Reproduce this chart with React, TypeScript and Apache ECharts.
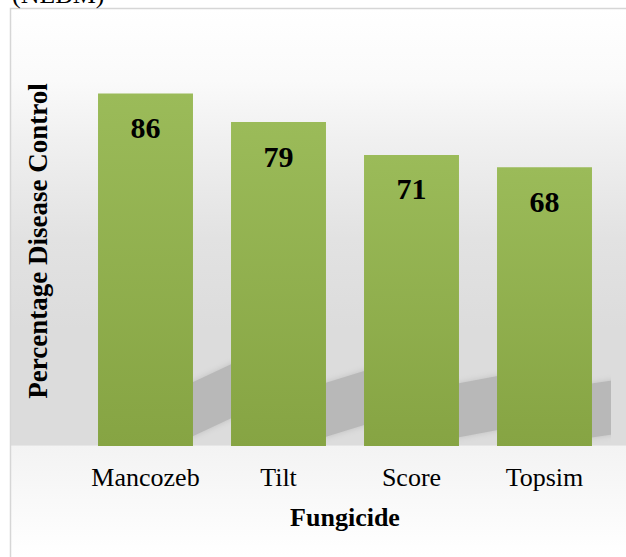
import React, { useEffect, useRef } from "react";
import * as echarts from "echarts";

const categories = ["Mancozeb", "Tilt", "Score", "Topsim"];
const values = [86, 79, 71, 68];
const yMax = 100;
const shadowRise = [0.5, 0.33, 0.2, 0.15];

const FONT = "'Times New Roman', 'Liberation Serif', serif";

export default function App() {
  const ref = useRef<HTMLDivElement>(null);
  useEffect(() => {
    if (!ref.current) return;
    const chart = echarts.init(ref.current, null, { renderer: "svg" });
    chart.setOption({
      animation: false,
      graphic: [
        {
          type: "rect",
          z: -10,
          shape: { x: 10.5, y: 8.5, width: 700, height: 600 },
          style: {
            stroke: "#d6d6d6",
            lineWidth: 1.5,
            fill: new echarts.graphic.LinearGradient(0, 0, 0, 548 / 600, [
              { offset: 0, color: "#ffffff" },
              { offset: 0.13, color: "#fafafa" },
              { offset: 0.24, color: "#f0f0f0" },
              { offset: 0.42, color: "#e2e2e2" },
              { offset: 0.585, color: "#dcdcdc" },
              { offset: 0.797, color: "#dcdcdc" },
              { offset: 0.798, color: "#f3f3f3" },
              { offset: 1, color: "#ffffff" },
            ]),
          },
        },
        {
          type: "text",
          x: 12,
          y: 7,
          style: {
            text: "(NLBM)",
            font: `26px ${FONT}`,
            fill: "#000",
            verticalAlign: "bottom",
          },
        },
      ],
      grid: { left: 79, right: 15, top: 36, bottom: 111 },
      xAxis: {
        type: "category",
        data: categories,
        axisLine: { show: false },
        axisTick: { show: false },
        axisLabel: { fontFamily: FONT, fontSize: 26, color: "#000", margin: 18, interval: 0 },
        name: "Fungicide",
        nameLocation: "middle",
        nameGap: 58,
        nameTextStyle: { fontFamily: FONT, fontSize: 26, fontWeight: "bold", color: "#000" },
      },
      yAxis: {
        type: "value",
        min: 0,
        max: yMax,
        axisLine: { show: false },
        axisTick: { show: false },
        axisLabel: { show: false },
        splitLine: { show: false },
        name: "Percentage Disease Control",
        nameLocation: "middle",
        nameGap: 28,
        nameRotate: 90,
        nameTextStyle: { fontFamily: FONT, fontSize: 27, fontWeight: "bold", color: "#000" },
      },
      series: [
        {
          type: "custom",
          z: 1,
          clip: true,
          silent: true,
          data: values.map((v, i) => [i, v]),
          renderItem: (params: any, api: any) => {
            const i = api.value(0);
            const base = api.coord([i, 0]);
            const bw = api.size([1, 0])[0] * (1 - 0.286);
            const xr = base[0] + bw / 2;
            const yb = base[1];
            const len = 60;
            const k = shadowRise[i];
            return {
              type: "polygon",
              shape: {
                points: [
                  [xr - 4, yb - 8],
                  [xr - 4, yb - 62],
                  [xr + len, yb - 62 - len * k],
                  [xr + len, yb - 8 - len * k],
                ],
              },
              style: {
                fill: "#b8b8b8",
                shadowBlur: 6,
                shadowColor: "#c0c0c0",
              },
            };
          },
        },
        {
          type: "bar",
          z: 3,
          data: values,
          barCategoryGap: "28.6%",
          itemStyle: {
            color: new echarts.graphic.LinearGradient(0, 0, 0, 1, [
              { offset: 0, color: "#9bbb59" },
              { offset: 1, color: "#86a443" },
            ]),
          },
          label: {
            show: true,
            position: "insideTop",
            distance: 19,
            fontFamily: FONT,
            fontSize: 30,
            fontWeight: "bold",
            color: "#000",
          },
        },
      ],
    });
    return () => chart.dispose();
  }, []);
  return (
    <div
      ref={ref}
      style={{ position: "absolute", left: 0, top: 0, width: 626, height: 557 }}
    />
  );
}
